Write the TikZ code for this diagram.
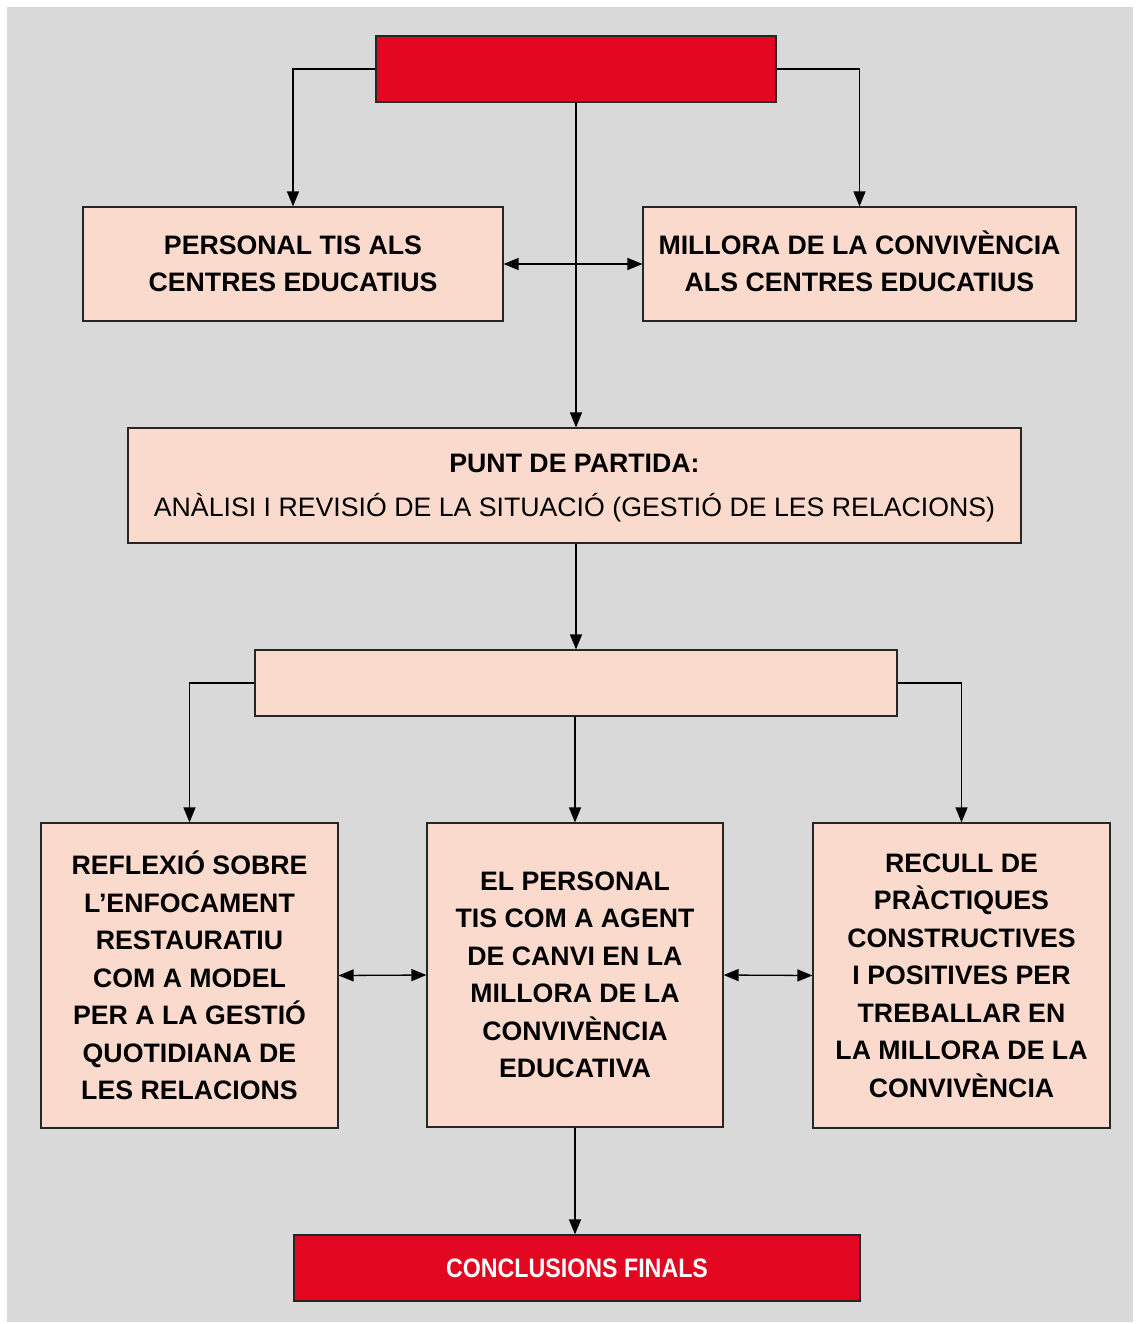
\documentclass[tikz,border=0pt]{standalone}
\usepackage{fontspec}
\setmainfont{Liberation Sans}
\usetikzlibrary{positioning,arrows.meta}
\definecolor{cvred}{RGB}{227,6,33}
\definecolor{cvpink}{RGB}{250,218,205}
\definecolor{cvgray}{RGB}{217,217,217}
\tikzset{
  box/.style={draw=black!85, fill=cvpink, line width=1.2pt, align=center,
    font=\bfseries\fontsize{26.7}{37.5}\selectfont, inner sep=0pt},
  redbox/.style={box, fill=cvred, text=white},
  link/.style={-{Triangle[length=15pt,width=12pt]}, line width=1.3pt},
  both/.style={{Triangle[length=15pt,width=12pt]}-{Triangle[length=15pt,width=12pt]}, line width=1.3pt}
}
\begin{document}
\begin{tikzpicture}[x=1pt,y=-1pt]
% Background
\fill[white] (0,0) rectangle (1135,1324);
\fill[cvgray] (7,7) rectangle (1133,1322);

% Top row
\node[redbox, minimum width=400pt, minimum height=66pt] (top) at (576,69) {};
\node[box, minimum width=420pt, minimum height=114pt] (pers) at (293,264)
  {PERSONAL TIS ALS\\CENTRES EDUCATIUS};
\node[box, minimum width=433pt, minimum height=114pt] (mill) at (859.5,264)
  {MILLORA DE LA CONVIV\smash{È}NCIA\\ALS CENTRES EDUCATIUS};

% Starting point
\node[box, font=\fontsize{26.7}{37.5}\selectfont, text depth=0pt, minimum width=893pt, minimum height=115pt] (punt) at (574.5,485.5)
  {\textbf{PUNT DE PARTIDA:}\\[7pt]ANÀLISI I REVISIÓ DE LA SITUACIÓ (GESTIÓ DE LES RELACIONS)};
\node[box, minimum width=642pt, minimum height=66pt] (mid) at (576,683) {};

% Bottom row
\node[box, minimum width=297pt, minimum height=305pt] (refl) at (189.5,975.5)
  {REFLEXIÓ SOBRE\\L’ENFOCAMENT\\RESTAURATIU\\COM A MODEL\\PER A LA GESTIÓ\\QUOTIDIANA DE\\LES RELACIONS};
\node[box, minimum width=296pt, minimum height=304pt] (agent) at (575,975)
  {EL PERSONAL\\TIS COM A AGENT\\DE CANVI EN LA\\MILLORA DE LA\\CONVIVÈNCIA\\EDUCATIVA};
\node[box, minimum width=297pt, minimum height=305pt] (recull) at (961.5,975.5)
  {RECULL DE\\PRÀCTIQUES\\CONSTRUCTIVES\\I POSITIVES PER\\TREBALLAR EN\\LA MILLORA DE LA\\CONVIVÈNCIA};
\node[redbox, minimum width=566pt, minimum height=66pt] (concl) at (577,1268)
  {\addfontfeature{FakeStretch=0.87}CONCLUSIONS FINALS};

% Connectors
\draw[link] (top.west) -| (pers.north);
\draw[link] (top.east) -| (mill.north);
\draw[link] (top.south) -- (top.south |- punt.north);
\draw[both] (pers.east) -- (mill.west);
\draw[link] (punt.south -| mid.north) -- (mid.north);
\draw[link] (mid.west) -| (refl.north);
\draw[link] (mid.east) -| (recull.north);
\draw[link] (mid.south -| agent.north) -- (agent.north);
\draw[both] (refl.east) -- (agent.west);
\draw[both] (agent.east) -- (recull.west);
\draw[link] (agent.south) -- (agent.south |- concl.north);
\end{tikzpicture}
\end{document}
